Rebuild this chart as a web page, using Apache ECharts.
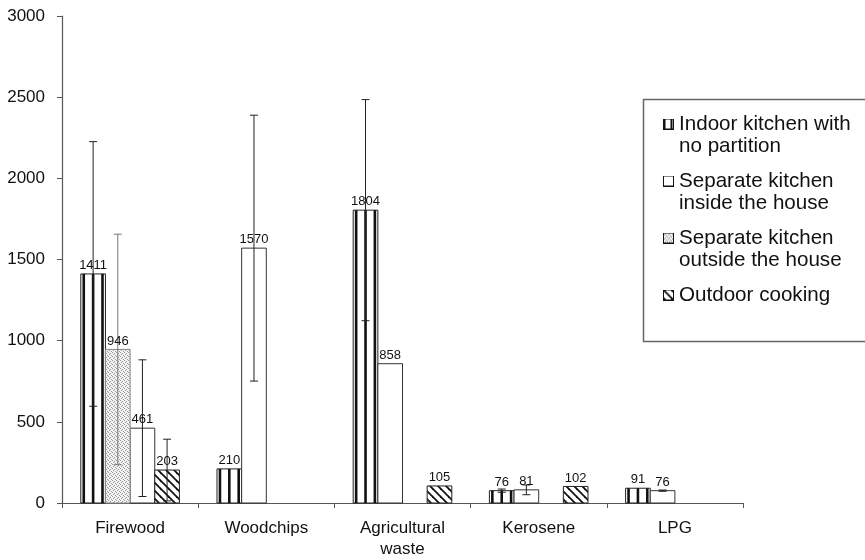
<!DOCTYPE html>
<html><head><meta charset="utf-8">
<script src="https://cdn.jsdelivr.net/npm/echarts@6/dist/echarts.min.js"></script>
<style>html,body{margin:0;padding:0;background:#fff}#c{width:865px;height:560px}</style>
</head><body><div id="c"></div>
<script>
// ---- data ----
const categories = ['Firewood', 'Woodchips', 'Agricultural\nwaste', 'Kerosene', 'LPG'];
const seriesNames = ['Indoor kitchen with no partition', 'Separate kitchen inside the house', 'Separate kitchen outside the house', 'Outdoor cooking'];
const legendLabels = ['Indoor kitchen with\nno partition', 'Separate kitchen\ninside the house', 'Separate kitchen\noutside the house', 'Outdoor cooking'];
const indoor      = [1411, 210, 1804, 76, 91];
const indoorErr   = [815, null, 681, 10, null];
const inside      = [461, 1570, 858, 81, 76];
const insideErr   = [421, 819, null, 30, 4];
const outside     = [946, null, null, null, null];
const outsideErr  = [710, null, null, null, null];
const outdoor     = [203, null, 105, 102, null];
const outdoorErr  = [190, null, null, null, null];
const yMin = 0, yMax = 3000, yStep = 500;

const FONT = '"Liberation Sans", Arial, sans-serif';

// ---- patterns ----
function mk(w, h, draw) { const c = document.createElement('canvas'); c.width = w; c.height = h; draw(c.getContext('2d')); return c; }
const dotCanvas = mk(4, 4, g => {
  g.fillStyle = '#f2f2f2'; g.fillRect(0, 0, 4, 4);
  g.fillStyle = '#999';
  [[0,0],[2,1],[1,2],[3,3]].forEach(p => g.fillRect(p[0], p[1], 1, 1));
});
const hatchCanvas = mk(8, 8, g => {
  g.fillStyle = '#fff'; g.fillRect(0, 0, 8, 8);
  g.strokeStyle = '#111'; g.lineWidth = 1.8;
  [-8, 0, 8].forEach(k => { g.beginPath(); g.moveTo(k - 1, -1); g.lineTo(k + 9, 9); g.stroke(); });
});
const dotFill = { image: dotCanvas, repeat: 'repeat' };
const hatchFill = { image: hatchCanvas, repeat: 'repeat' };

function iconURL(kind) {
  return 'image://' + mk(11, 11, g => {
    g.fillStyle = '#fff'; g.fillRect(0, 0, 11, 11);
    if (kind === 2) { g.fillStyle = g.createPattern(dotCanvas, 'repeat'); g.fillRect(0, 0, 11, 11); }
    if (kind === 3) { g.fillStyle = g.createPattern(hatchCanvas, 'repeat'); g.fillRect(0, 0, 11, 11); }
    g.strokeStyle = '#111'; g.lineWidth = 1; g.strokeRect(0.5, 0.5, 10, 10);
    if (kind === 0) { g.fillStyle = '#111'; g.fillRect(0, 0, 2.5, 11); g.fillRect(7.5, 0, 2, 11); }
  }).toDataURL();
}

const styles = [
  { fill: '#fff', stroke: '#222', err: '#222', stripes: true },
  { fill: '#fff', stroke: '#333', err: '#222' },
  { fill: dotFill, stroke: '#888', err: '#777' },
  { fill: hatchFill, stroke: '#222', err: '#222' }
];

function makeRender(sIdx) {
  const st = styles[sIdx];
  return function (params, api) {
    const ci = api.value(0), v = api.value(1), e = api.value(2);
    const band = api.size([1, 0])[0];
    const bw = band * 0.181;
    let slot = sIdx;
    // in the reference, Firewood's "outside" bar is drawn before its "inside" bar
    if (ci === 0 && sIdx === 1) slot = 2; else if (ci === 0 && sIdx === 2) slot = 1;
    const c = api.coord([ci, v]);
    const base = api.coord([ci, 0]);
    const x0 = c[0] - 2 * bw + slot * bw;
    const top = c[1], bottom = base[1];
    const cx = x0 + bw / 2;
    const kids = [];
    kids.push({ type: 'rect', shape: { x: x0, y: top, width: bw, height: bottom - top },
      style: { fill: st.fill, stroke: st.stroke, lineWidth: 1 } });
    if (st.stripes) {
      [0.12, 0.5, 0.88].forEach(f => {
        kids.push({ type: 'rect', shape: { x: x0 + bw * f - 1.3, y: top, width: 2.6, height: bottom - top },
          style: { fill: '#111' } });
      });
    }
    if (e && !isNaN(e)) {
      const yt = api.coord([ci, v + e])[1];
      const yb = api.coord([ci, Math.max(v - e, 0)])[1];
      const ls = { stroke: st.err, lineWidth: 1 };
      kids.push({ type: 'line', shape: { x1: cx, y1: yt, x2: cx, y2: yb }, style: ls });
      kids.push({ type: 'line', shape: { x1: cx - 4, y1: yt, x2: cx + 4, y2: yt }, style: ls });
      kids.push({ type: 'line', shape: { x1: cx - 4, y1: yb, x2: cx + 4, y2: yb }, style: ls });
    }
    kids.push({ type: 'text', style: { text: String(v), x: cx, y: top - 2, align: 'center', verticalAlign: 'bottom',
      fontSize: 13, fontFamily: FONT, fill: '#111' } });
    return { type: 'group', children: kids };
  };
}

function toData(vals, errs) {
  return vals.map((v, i) => [i, v, errs[i] == null ? 0 : errs[i]]).filter(d => d[1] != null);
}
const allVals = [indoor, inside, outside, outdoor];
const allErrs = [indoorErr, insideErr, outsideErr, outdoorErr];

const chart = echarts.init(document.getElementById('c'), null, { renderer: 'canvas' });
chart.setOption({
  animation: false,
  backgroundColor: '#fff',
  textStyle: { fontFamily: FONT },
  grid: { left: 62, right: 122, top: 16, bottom: 57, containLabel: false },
  xAxis: {
    type: 'category', data: categories, boundaryGap: true,
    axisLine: { lineStyle: { color: '#555', width: 1.2 } },
    axisTick: { show: true, length: 5, lineStyle: { color: '#555' } },
    axisLabel: { fontSize: 17, lineHeight: 21, margin: 15, color: '#111', interval: 0, fontFamily: FONT }
  },
  yAxis: {
    type: 'value', min: yMin, max: yMax, interval: yStep,
    axisLine: { show: true, lineStyle: { color: '#555', width: 1.2 } },
    axisTick: { show: true, length: 5, lineStyle: { color: '#555' } },
    splitLine: { show: false },
    axisLabel: { fontSize: 17, margin: 17, color: '#111', fontFamily: FONT, formatter: v => String(v) }
  },
  legend: {
    orient: 'vertical', left: 663, top: 91, padding: 0, itemWidth: 11, itemHeight: 11, itemGap: -9,
    selectedMode: false,
    data: seriesNames.map((n, i) => ({ name: n, icon: iconURL(i) })),
    formatter: name => '\n' + legendLabels[seriesNames.indexOf(name)] + (seriesNames.indexOf(name) === 3 ? '\n' : ''),
    textStyle: { fontSize: 20.6, lineHeight: 22, color: '#111', fontFamily: FONT }
  },
  graphic: [{ type: 'rect', shape: { x: 643.5, y: 99.5, width: 240, height: 242 },
    style: { fill: 'none', stroke: '#666', lineWidth: 1.5 }, z: -1 }],
  series: seriesNames.map((n, i) => ({
    name: n, type: 'custom', renderItem: makeRender(i), data: toData(allVals[i], allErrs[i]),
    itemStyle: { color: '#fff' }, clip: false
  }))
});
</script></body></html>
